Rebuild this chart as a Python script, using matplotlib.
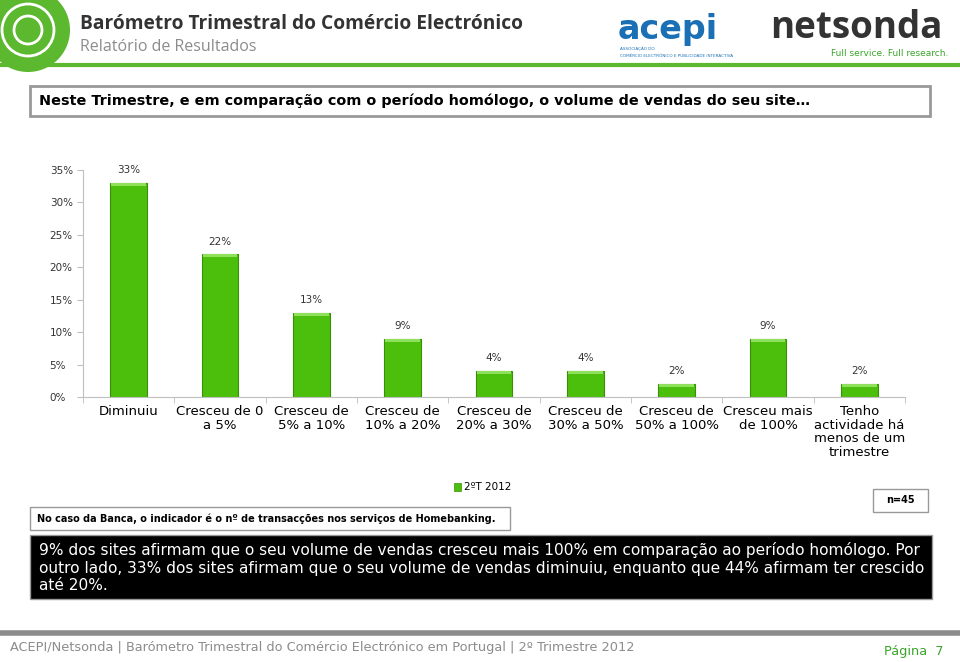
import matplotlib
matplotlib.use("Agg")
import matplotlib.pyplot as plt
from matplotlib.patches import Rectangle, Circle
import numpy as np

# dados do gráfico
categorias = ["Diminuiu", "Cresceu de 0\na 5%", "Cresceu de\n5% a 10%", "Cresceu de\n10% a 20%",
              "Cresceu de\n20% a 30%", "Cresceu de\n30% a 50%", "Cresceu de\n50% a 100%",
              "Cresceu mais\nde 100%", "Tenho\nactividade há\nmenos de um\ntrimestre"]
valores = [33, 22, 13, 9, 4, 4, 2, 9, 2]
serie = "2ºT 2012"
yticks = [0, 5, 10, 15, 20, 25, 30, 35]

titulo = "Barómetro Trimestral do Comércio Electrónico"
subtitulo = "Relatório de Resultados"
pergunta = "Neste Trimestre, e em comparação com o período homólogo, o volume de vendas do seu site…"
nota = "No caso da Banca, o indicador é o nº de transacções nos serviços de Homebanking."
amostra = "n=45"
conclusao = ["9% dos sites afirmam que o seu volume de vendas cresceu mais 100% em comparação ao período homólogo. Por",
             "outro lado, 33% dos sites afirmam que o seu volume de vendas diminuiu, enquanto que 44% afirmam ter crescido",
             "até 20%."]
rodape = "ACEPI/Netsonda | Barómetro Trimestral do Comércio Electrónico em Portugal | 2º Trimestre 2012"
pagina = "Página  7"

W, H = 960, 662
fig = plt.figure(figsize=(9.6, 6.62), dpi=100)
verde = "#4cbf0c"

# camada de fundo em coordenadas de pixel
bg = fig.add_axes([0, 0, 1, 1])
bg.set_xlim(0, W)
bg.set_ylim(H, 0)
bg.axis("off")

# cabeçalho
bg.add_patch(Circle((28, 30), 42, facecolor="#5cb82e", edgecolor="none"))
for r in (14, 26):
    bg.add_patch(Circle((28, 30), r, facecolor="none", edgecolor="white", lw=2))
bg.text(80, 24, titulo, fontsize=13.8, fontweight="bold", color="#333333", va="center", family="Open Sans")
bg.text(80, 47, subtitulo, fontsize=11.5, color="#8c8c8c", va="center", family="Open Sans")
bg.text(618, 30, "acepi", fontsize=24, fontweight="bold", color="#1a6fb5", va="center", family="DejaVu Sans")
bg.text(620, 49, "ASSOCIAÇÃO DO", fontsize=3, color="#1a6fb5", va="center")
bg.text(620, 56, "COMÉRCIO ELECTRÓNICO E PUBLICIDADE INTERACTIVA", fontsize=3, color="#1a6fb5", va="center")
bg.text(770, 28, "netsonda", fontsize=26.5, fontweight="bold", color="#333333", va="center", family="Open Sans")
bg.text(948, 53, "Full service. Full research.", fontsize=6.5, color="#3aa52a", va="center", ha="right")
bg.plot([0, W], [65, 65], color="#5cb82e", lw=3)

# pergunta
bg.add_patch(Rectangle((30, 86), 900, 30, facecolor="white", edgecolor="#999999", lw=2))
bg.text(39, 101, pergunta, fontsize=10.4, fontweight="bold", va="center", color="black")

# legenda, nota e amostra
bg.add_patch(Rectangle((454, 483), 7, 8, facecolor=verde, edgecolor="#3a8f0a", lw=0.5))
bg.text(464, 487, serie, fontsize=7.5, va="center", color="black")
bg.add_patch(Rectangle((30, 507), 480, 23, facecolor="white", edgecolor="#999999", lw=1))
bg.text(37, 519, nota, fontsize=7, fontweight="bold", va="center")
bg.add_patch(Rectangle((873, 489), 55, 23, facecolor="white", edgecolor="#999999", lw=1))
bg.text(900, 500, amostra, fontsize=7, fontweight="bold", ha="center", va="center")

# conclusão
bg.add_patch(Rectangle((30, 535), 902, 64, facecolor="black", edgecolor="#999999", lw=1))
for i, linha in enumerate(conclusao):
    bg.text(39, 550 + i * 18, linha, fontsize=11.1, color="white", va="center")

# rodapé
bg.plot([0, W], [633, 633], color="#8c8c8c", lw=4)
bg.text(10, 648, rodape, fontsize=9.3, color="#8c8c8c", va="center")
bg.text(944, 652, pagina, fontsize=9.3, color="#3aa52a", va="center", ha="right")

# gráfico de barras
ax = fig.add_axes([83 / W, 1 - 397 / H, (905 - 83) / W, (397 - 170) / H])
x = np.arange(len(categorias))
ax.bar(x, valores, width=0.4, color=verde, edgecolor="#3a8f0a", linewidth=0.8)
# reflexo claro no topo das barras
ax.bar(x, [0.45] * len(x), bottom=np.array(valores) - 0.45, width=0.38, color="#8fe05a", linewidth=0)
for xi, v in zip(x, valores):
    ax.text(xi, v + 1.2, f"{v}%", ha="center", va="bottom", fontsize=7.5, color="#333333")
ax.set_xlim(-0.5, len(categorias) - 0.5)
ax.set_ylim(0, 35)
ax.set_yticks(yticks)
ax.set_yticklabels([f"{t}%" for t in yticks], fontsize=7.5, color="#333333")
ax.set_xticks(x)
ax.set_xticklabels(categorias, fontsize=9.5, color="black", linespacing=1.05)
ax.set_xticks(np.arange(-0.5, len(categorias)), minor=True)
ax.tick_params(axis="x", which="major", length=0, pad=6)
ax.tick_params(axis="x", which="minor", length=4, color="#bfbfbf")
ax.tick_params(axis="y", length=4, color="#bfbfbf", pad=20)
for lbl in ax.get_yticklabels():
    lbl.set_horizontalalignment("left")
for s in ("top", "right"):
    ax.spines[s].set_visible(False)
ax.spines["left"].set_color("#bfbfbf")
ax.spines["bottom"].set_color("#bfbfbf")

fig.savefig("out.png", dpi=100)
